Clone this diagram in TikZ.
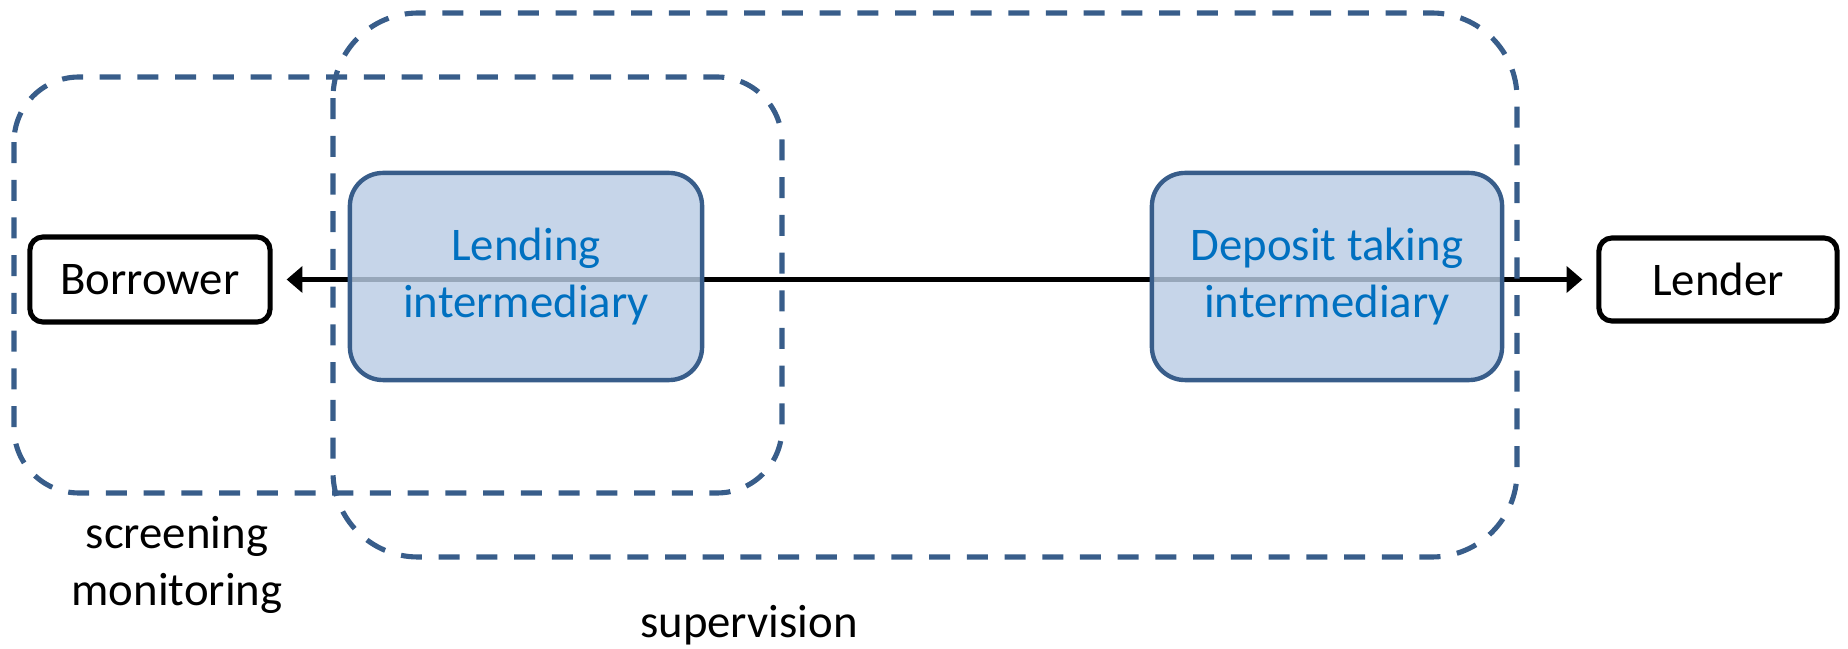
\documentclass[tikz,border=0pt]{standalone}
\usepackage{fontspec}
\setmainfont{Carlito}
\usetikzlibrary{arrows.meta}
\pgfdeclarelayer{back}
\pgfsetlayers{back,main}
\definecolor{boxblue}{HTML}{385D8A}
\definecolor{fillblue}{RGB}{185,204,228}
\definecolor{textblue}{HTML}{0070C0}

\begin{document}
\begin{tikzpicture}[x=0.01cm,y=-0.01cm,
	font=\fontsize{13.3}{16.3}\selectfont,
	agent/.style={draw,line width=1.45pt,rounded corners=0.13cm,minimum width=2.40cm,minimum height=0.85cm,inner sep=0pt},
	bank/.style={draw=boxblue,line width=1.25pt,fill=fillblue,fill opacity=0.82,text opacity=1,text=textblue,rounded corners=0.33cm,minimum width=3.52cm,minimum height=2.07cm,align=center,inner sep=0pt},
	group/.style={draw=boxblue,line width=1.45pt,dash pattern=on 0.21cm off 0.167cm},
	flow/.style={line width=1.3pt,{Triangle[length=4.5pt,width=7.4pt]}-{Triangle[length=4.5pt,width=7.4pt]},shorten <=0.14cm,shorten >=0.14cm}]
		\useasboundingbox (0,0) rectangle (1848,649);
		%agents
		\node[agent] (borrower) at (150,279.5) {Borrower};
		\node[agent,minimum width=2.38cm,minimum height=0.83cm] (lender) at (1718,279.5) {Lender};
		%intermediaries
		\node[bank] (lending) at (526,276.5) {Lending\\intermediary};
		\node[bank,minimum width=3.50cm] (deposit) at (1327,276.5) {Deposit taking\\intermediary};
		%flow, under the boxes
		\begin{pgfonlayer}{back}
			\draw[flow] (borrower) -- (lender);
		\end{pgfonlayer}
		%groups
		\draw[group,rounded corners=0.65cm] (14,77) rectangle (782,493);
		\draw[group,rounded corners=0.85cm] (333,13) rectangle (1517,557);
		%labels
		\node[align=center] (screen) at (177,565) {screening\\monitoring};
		\node[anchor=base] (superv) at (749,637) {supervision};
	\end{tikzpicture}
\end{document}
